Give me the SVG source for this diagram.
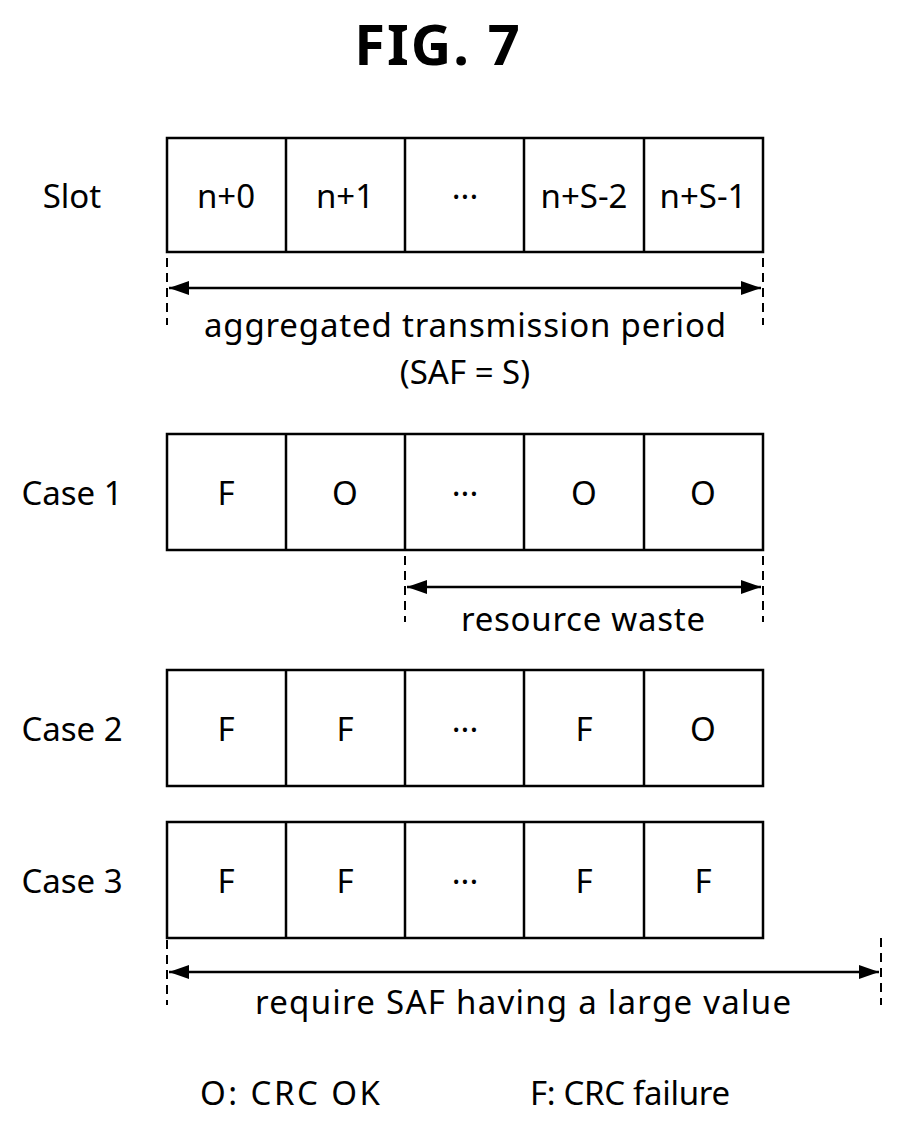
<svg xmlns="http://www.w3.org/2000/svg" width="902" height="1125" viewBox="0 0 902 1125">
<defs>
<style>
text{font-family:"Noto Sans","DejaVu Sans",sans-serif;font-size:33px;fill:#000}
.c{text-anchor:middle}
.box{fill:#fff;stroke:#000;stroke-width:2.5}
.d{stroke:#000;stroke-width:2;stroke-dasharray:9,6}
.a{stroke:#000;stroke-width:2.5}
</style>
<marker id="ah" viewBox="0 0 20 14" refX="20" refY="7" markerWidth="20" markerHeight="14" orient="auto-start-reverse" markerUnits="userSpaceOnUse"><path d="M0,0L20,7L0,14z" fill="#000"/></marker>
</defs>
<rect width="902" height="1125" fill="#fff"/>
<text x="438" y="65" class="c" style="font-size:56px;font-weight:bold;letter-spacing:2px">FIG. 7</text>
<g id="slot">
<text x="72" y="208" class="c">Slot</text>
<rect class="box" x="167" y="138" width="596" height="114"/>
<path d="M286 138V252M405 138V252M524 138V252M644 138V252" stroke="#000" stroke-width="2.5"/>
<text x="226" y="208" class="c">n+0</text><text x="345" y="208" class="c">n+1</text><text x="465" y="208" class="c">···</text><text x="584" y="208" class="c">n+S-2</text><text x="703" y="208" class="c">n+S-1</text>
</g>
<g id="case1">
<text x="72" y="505" class="c">Case 1</text>
<rect class="box" x="167" y="434" width="596" height="116"/>
<path d="M286 434V550M405 434V550M524 434V550M644 434V550" stroke="#000" stroke-width="2.5"/>
<text x="226" y="505" class="c">F</text><text x="345" y="505" class="c">O</text><text x="465" y="505" class="c">···</text><text x="584" y="505" class="c">O</text><text x="703" y="505" class="c">O</text>
</g>
<g id="case2">
<text x="72" y="741" class="c">Case 2</text>
<rect class="box" x="167" y="670" width="596" height="116"/>
<path d="M286 670V786M405 670V786M524 670V786M644 670V786" stroke="#000" stroke-width="2.5"/>
<text x="226" y="741" class="c">F</text><text x="345" y="741" class="c">F</text><text x="465" y="741" class="c">···</text><text x="584" y="741" class="c">F</text><text x="703" y="741" class="c">O</text>
</g>
<g id="case3">
<text x="72" y="893" class="c">Case 3</text>
<rect class="box" x="167" y="822" width="596" height="116"/>
<path d="M286 822V938M405 822V938M524 822V938M644 822V938" stroke="#000" stroke-width="2.5"/>
<text x="226" y="893" class="c">F</text><text x="345" y="893" class="c">F</text><text x="465" y="893" class="c">···</text><text x="584" y="893" class="c">F</text><text x="703" y="893" class="c">F</text>
</g>
<g id="connectors">
<path class="d" d="M167 258V325M763 258V325M405 556V622M763 556V622M167 940V1005M881 938V1005"/>
<line class="a" x1="169" y1="288" x2="761" y2="288" marker-start="url(#ah)" marker-end="url(#ah)"/>
<line class="a" x1="407" y1="587" x2="761" y2="587" marker-start="url(#ah)" marker-end="url(#ah)"/>
<line class="a" x1="169" y1="972" x2="879" y2="972" marker-start="url(#ah)" marker-end="url(#ah)"/>
</g>
<text x="465" y="337" class="c" textLength="522">aggregated transmission period</text>
<text x="465" y="384" class="c">(SAF = S)</text>
<text x="583" y="631" class="c" textLength="244">resource waste</text>
<text x="523" y="1014" class="c" textLength="536">require SAF having a large value</text>
<text x="200" y="1105" textLength="180">O: CRC OK</text>
<text x="530" y="1105" textLength="200">F: CRC failure</text>
</svg>
